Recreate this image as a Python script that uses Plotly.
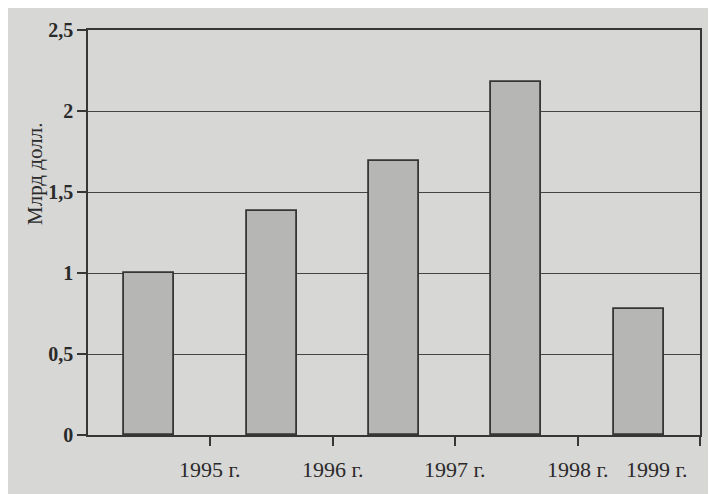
import plotly.graph_objects as go

years = ["1995 г.", "1996 г.", "1997 г.", "1998 г.", "1999 г."]
values = [1.0, 1.38, 1.69, 2.18, 0.78]
positions = [0, 1, 2, 3, 4]
yticks = [0, 0.5, 1, 1.5, 2, 2.5]
ytick_text = ["0", "0,5", "1", "1,5", "2", "2,5"]
label_pos = [0.5, 1.5, 2.5, 3.5, 4.15]

ink = "#363636"
L, T, PW, PH = 80, 22, 612, 405
fig = go.Figure()
fig.add_trace(go.Bar(
    x=positions, y=values, width=0.41,
    marker=dict(color="#b6b6b4", line=dict(color=ink, width=1.8)),
    showlegend=False, hoverinfo="skip",
))

fig.update_layout(
    width=716, height=494,
    margin=dict(l=L, r=716 - L - PW, t=T, b=494 - T - PH),
    paper_bgcolor="#d7d7d5", plot_bgcolor="#d7d7d5",
    font=dict(family="Liberation Serif", color="#2a2a2a"),
    separators=", ",
    bargap=0,
)
fig.update_xaxes(
    range=[-0.5, 4.5], tickvals=[0.5, 1.5, 2.5, 3.5, 4.5], ticktext=["", "", "", "", ""],
    ticks="outside", ticklen=9, tickcolor=ink, tickwidth=1.5,
    showgrid=False, zeroline=False,
    showline=True, linecolor=ink, linewidth=1.5, mirror=True,
)
fig.update_yaxes(
    range=[0, 2.5], tickvals=yticks, ticktext=ytick_text,
    ticks="outside", ticklen=9, tickcolor=ink, tickwidth=1.5,
    tickfont=dict(size=20, family="Liberation Serif", color="#2a2a2a", weight="bold"),
    showgrid=True, gridcolor="#444444", gridwidth=1.4,
    zeroline=False,
    showline=True, linecolor=ink, linewidth=1.5, mirror=True,
)
for lab, xp in zip(years, label_pos):
    fig.add_annotation(x=xp, y=0, xref="x", yref="y", yshift=-34, text=lab,
                       showarrow=False, xanchor="center", yanchor="middle",
                       font=dict(size=22, family="Liberation Serif", color="#2a2a2a"))
# y-axis title placed at pixel (27, 166) within the page
fig.add_annotation(x=(27 - L) / PW, y=(T + PH - 166) / PH, xref="paper", yref="paper",
                   text="Млрд долл.", showarrow=False, textangle=-90,
                   xanchor="center", yanchor="middle",
                   font=dict(size=21, family="Liberation Serif", color="#2a2a2a"))
fig.write_html("out.html")
